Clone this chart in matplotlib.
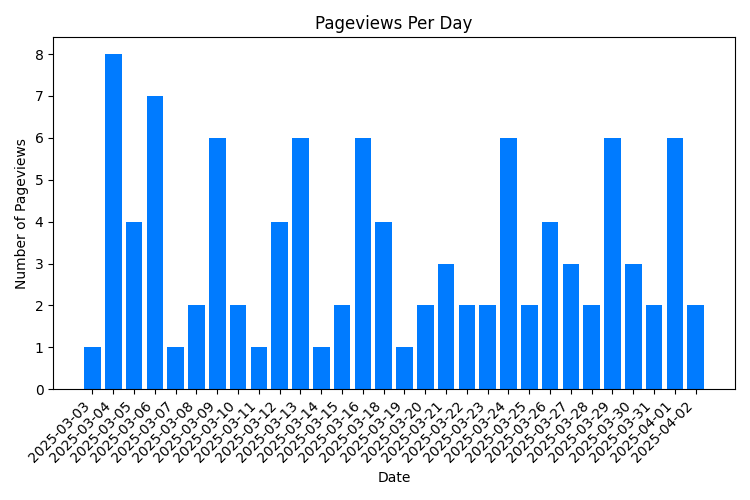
import matplotlib
matplotlib.use('Agg')
import matplotlib.pyplot as plt

dates = ['2025-03-03', '2025-03-04', '2025-03-05', '2025-03-06', '2025-03-07',
         '2025-03-08', '2025-03-09', '2025-03-10', '2025-03-11', '2025-03-12',
         '2025-03-13', '2025-03-14', '2025-03-15', '2025-03-16', '2025-03-18',
         '2025-03-19', '2025-03-20', '2025-03-21', '2025-03-22', '2025-03-23',
         '2025-03-24', '2025-03-25', '2025-03-26', '2025-03-27', '2025-03-28',
         '2025-03-29', '2025-03-30', '2025-03-31', '2025-04-01', '2025-04-02']
pageviews = [1, 8, 4, 7, 1, 2, 6, 2, 1, 4, 6, 1, 2, 6, 4,
             1, 2, 3, 2, 2, 6, 2, 4, 3, 2, 6, 3, 2, 6, 2]

fig, ax = plt.subplots(figsize=(7.5, 5), dpi=100)
ax.bar(dates, pageviews, color='#007bff')
ax.set_title('Pageviews Per Day')
ax.set_xlabel('Date')
ax.set_ylabel('Number of Pageviews')
plt.xticks(rotation=45, ha='right')
plt.tight_layout()
plt.savefig('out.png')
